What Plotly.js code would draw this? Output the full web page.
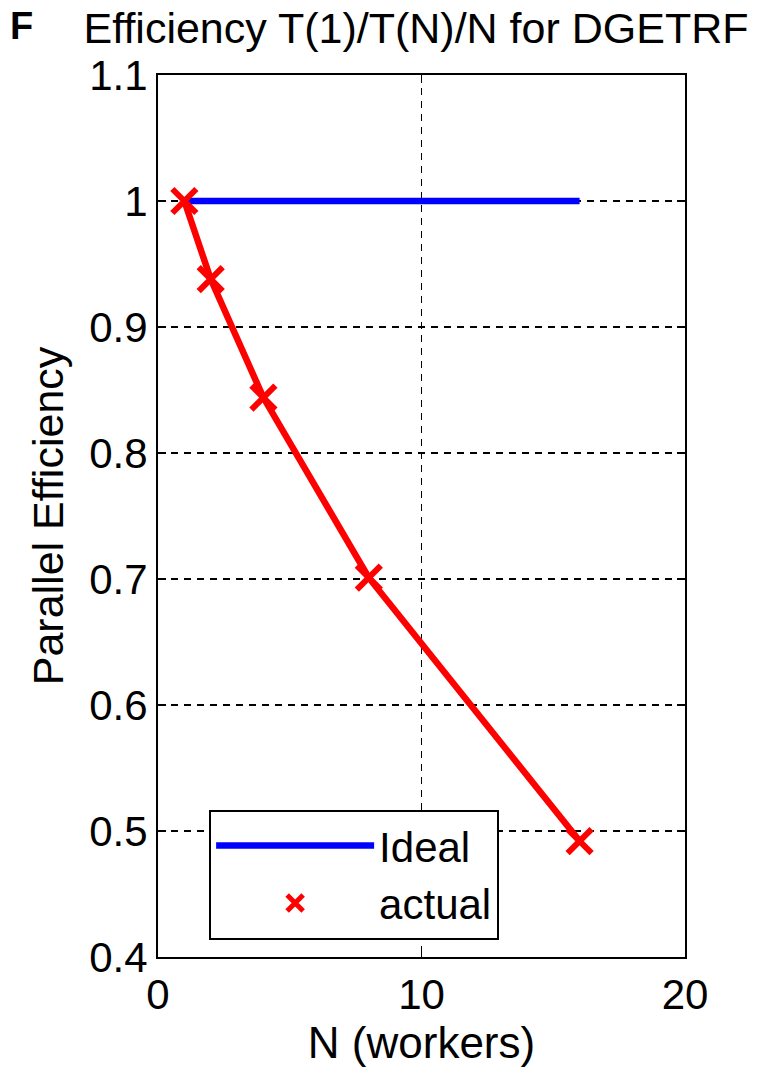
<!DOCTYPE html>
<html>
<head>
<meta charset="utf-8">
<script src="https://cdn.plot.ly/plotly-3.0.1.min.js"></script>
<style>html,body{margin:0;padding:0;background:#fff;}#chart{width:769px;height:1068px;}</style>
</head>
<body>
<div id="chart"></div>
<script>
var workers = [1, 2, 4, 8, 16];
var efficiency = [1.0, 0.938, 0.844, 0.701, 0.492];
var idealEff = [1, 1, 1, 1, 1];
var xTicks = [0, 10, 20];
var xTickText = ['0', '10', '20'];
var yTicks = [0.4, 0.5, 0.6, 0.7, 0.8, 0.9, 1, 1.1];
var yTickText = ['0.4', '0.5', '0.6', '0.7', '0.8', '0.9', '1', '1.1'];

var FONT = 'Liberation Sans, Arial, sans-serif';

var traces = [
  {x: workers, y: idealEff, mode: 'lines', name: 'Ideal',
   line: {color: '#0000ff', width: 6.5}},
  {x: workers, y: efficiency, mode: 'lines', name: 'actual-line', showlegend: false,
   line: {color: '#ff0000', width: 6.5}},
  {x: workers, y: efficiency, mode: 'markers', name: 'actual',
   marker: {symbol: 'x-thin', size: 24, line: {color: '#ff0000', width: 6}, color: '#ff0000'}}
];

var axisCommon = {
  showline: true, linecolor: '#000', linewidth: 2, mirror: 'ticks',
  ticks: 'inside', ticklen: 8, tickwidth: 1.5, tickcolor: '#000',
  showgrid: true, gridcolor: '#000', gridwidth: 1.5, griddash: '7px,6px',
  zeroline: false, tickfont: {family: FONT, size: 42, color: '#000'}
};

var layout = {
  width: 769, height: 1068,
  margin: {l: 158, r: 84, t: 75, b: 111},
  paper_bgcolor: '#fff', plot_bgcolor: '#fff',
  title: {text: 'Efficiency T(1)/T(N)/N for DGETRF', font: {family: FONT, size: 43, color: '#000'},
          x: 0.541, xanchor: 'center', y: 0.974, yanchor: 'middle'},
  xaxis: Object.assign({}, axisCommon, {
    range: [0, 20], tickvals: xTicks, ticktext: xTickText,
    title: {text: 'N (workers)', font: {family: FONT, size: 44, color: '#000'}, standoff: 8}
  }),
  yaxis: Object.assign({}, axisCommon, {
    range: [0.4, 1.1], tickvals: yTicks, ticktext: yTickText,
    title: {text: 'Parallel Efficiency', font: {family: FONT, size: 43, color: '#000'}, standoff: 12}
  }),
  showlegend: true,
  legend: {x: 0.097, y: 0.167, xanchor: 'left', yanchor: 'top',
           bgcolor: '#fff', bordercolor: '#000', borderwidth: 2,
           font: {family: FONT, size: 42, color: '#000'},
           itemwidth: 158, tracegroupgap: 0},
  annotations: [
    {text: '<b>F</b>', xref: 'paper', yref: 'paper', x: -0.285, y: 1.055, xanchor: 'left', yanchor: 'middle',
     showarrow: false, font: {family: FONT, size: 38, color: '#000'}}
  ]
};

Plotly.newPlot('chart', traces, layout, {displayModeBar: false, staticPlot: true});
</script>
</body>
</html>
